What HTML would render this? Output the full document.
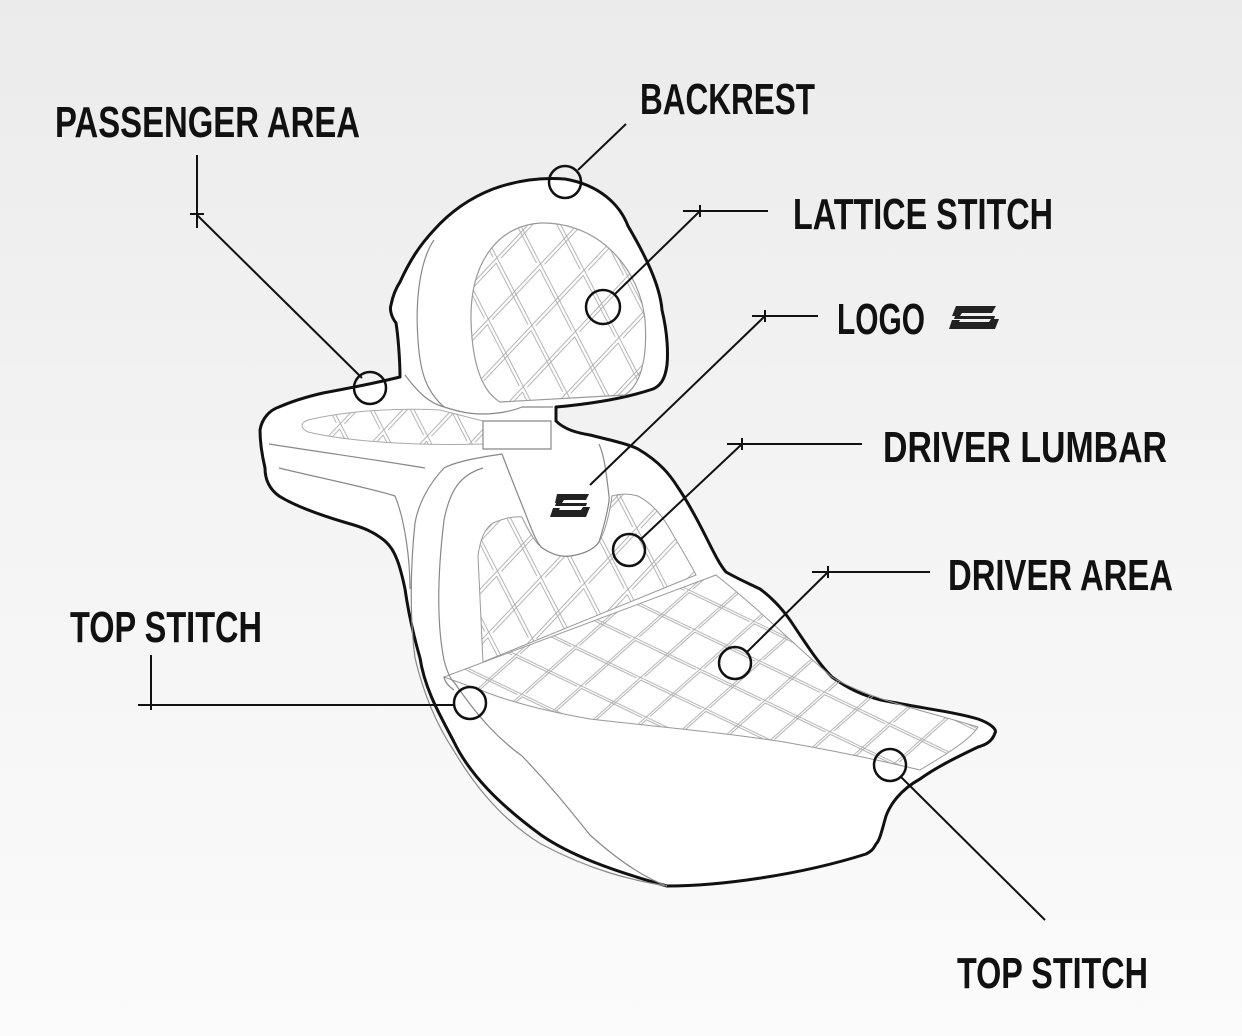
<!DOCTYPE html>
<html><head><meta charset="utf-8"><style>
html,body{margin:0;padding:0;}
body{width:1242px;height:1036px;overflow:hidden;background:linear-gradient(#ebebeb,#f4f4f4 50%,#fbfbfb);}
svg{display:block}
text{font-family:"Liberation Sans Narrow","Liberation Sans",sans-serif;font-weight:bold;fill:#111;}
</style></head><body>
<svg width="1242" height="1036" viewBox="0 0 1242 1036" xmlns="http://www.w3.org/2000/svg">
<defs>
<pattern id="lat" width="60" height="40" patternUnits="userSpaceOnUse" patternTransform="rotate(-8)">
<path d="M0 0 L60 40 M60 0 L0 40 M-4 0 L56 40 M64 0 L4 40" stroke="#aaa" stroke-width="0.9" fill="none"/>
</pattern>
<pattern id="latb" width="44" height="62" patternUnits="userSpaceOnUse" patternTransform="rotate(8)">
<path d="M0 0 L44 62 M44 0 L0 62 M-4 0 L40 62 M48 0 L4 62" stroke="#aaa" stroke-width="0.9" fill="none"/>
</pattern>
</defs>
<g font-size="44">
<text x="55" y="137" textLength="305" lengthAdjust="spacingAndGlyphs">PASSENGER AREA</text>
<text x="640" y="114" textLength="175" lengthAdjust="spacingAndGlyphs">BACKREST</text>
<text x="793" y="229" textLength="260" lengthAdjust="spacingAndGlyphs">LATTICE STITCH</text>
<text x="837" y="334" textLength="88" lengthAdjust="spacingAndGlyphs">LOGO</text>
<text x="883" y="462" textLength="284" lengthAdjust="spacingAndGlyphs">DRIVER LUMBAR</text>
<text x="948" y="590" textLength="225" lengthAdjust="spacingAndGlyphs">DRIVER AREA</text>
<text x="70" y="642" textLength="192" lengthAdjust="spacingAndGlyphs">TOP STITCH</text>
<text x="957" y="988" textLength="191" lengthAdjust="spacingAndGlyphs">TOP STITCH</text>
</g>
<g fill="#222"><path d="M956 306 h40 l-4 7 h-30 l-2 3 h-8 z"/><path d="M952 320 h8 l-1 2 h30 l2 -3 h8 l-4 10 h-46 z"/><path d="M955 316 h40 l-1 3 h-40 z"/></g>
<path d="M565 179 C600 185 620 205 628 226 C645 255 660 285 662 310 C668 335 668 355 667 365 C665 380 660 386 653 389 C620 400 580 405 556 407 L556 421 C565 430 578 433 590 435 C610 440 628 444 638 449 C660 462 670 475 677 486 C690 505 700 525 706 537 C715 555 720 565 726 572 C740 580 750 584 760 589 C775 600 785 612 794 626 C810 650 820 665 832 677 C850 690 865 696 881 700 C920 708 955 712 978 719 C992 724 997 730 995 733 C992 742 985 745 978 747 C955 758 935 768 920 779 C900 790 890 805 886 816 C882 830 880 840 876 844 C873 850 870 852 866 854 C800 875 720 886 667 886 C610 870 570 855 541 835 C500 805 470 775 454 742 C440 715 425 690 420 658 C412 630 408 610 405 589 C400 565 395 550 386 542 C375 532 362 527 347 523 C320 515 295 506 279 496 C268 488 265 478 265 468 C262 455 260 440 260 430 C262 418 270 410 279 407 C295 400 310 396 323 393 C350 388 380 382 400 377 C400 360 398 335 396 323 C390 315 390 308 391 305 C393 295 396 288 400 282 C410 260 420 245 434 230 C450 212 470 198 493 189 C515 181 540 177 565 179 Z" fill="#fff" stroke="#111" stroke-width="3" stroke-linejoin="round"/>
<path d="M471 320 C470 260 500 225 541 223 C600 222 640 270 645 320 C648 360 640 385 625 395 L500 402 C480 390 472 360 471 320 Z" fill="url(#latb)" stroke="#999" stroke-width="1.2"/>
<path d="M308 420 C350 410 400 408 440 410 L483 421 L483 444 C420 446 350 442 308 432 C300 428 300 423 308 420 Z" fill="url(#latb)" stroke="#aaa" stroke-width="1"/>
<path d="M483 662 L478 556 C480 540 485 528 493 523 C505 518 515 516 522 517 C528 530 535 542 541 547 C552 555 562 557 570 556 C585 554 594 549 599 542 C606 530 610 510 612 496 C622 493 630 494 638 496 C655 505 665 520 672 533 C682 550 690 563 696 575 Z" fill="url(#latb)" stroke="#999" stroke-width="1"/>
<path d="M444 677 L716 575 C760 610 800 650 832 677 C870 700 930 712 978 727 C970 740 945 755 920 770 C870 758 830 750 784 742 C720 732 650 726 590 719 C550 712 510 702 483 691 Z" fill="url(#lat)" stroke="#999" stroke-width="1"/>
<g fill="none" stroke="#888" stroke-width="1.2">
<path d="M405 375 C420 395 430 403 444 407 C460 412 470 414 483 414 C500 414 515 410 522 407 L553 407"/>
<path d="M434 240 C420 260 415 300 418 340 C420 370 425 390 444 407"/>
<path d="M483 421 L551 421 L551 449 L483 449 Z"/>
<path d="M269 444 C320 452 390 462 425 468"/>
<path d="M279 468 C320 478 370 488 395 496 C405 520 410 560 410 589"/>
<path d="M502 454 C475 458 455 462 444 468 C428 485 418 505 415 523 C410 570 410 620 415 658 C425 700 440 730 454 751 C480 795 510 825 541 844 C590 870 630 880 667 886"/>
<path d="M483 468 C460 475 450 490 444 520 C438 570 436 620 444 660 C448 675 451 680 454 682 C480 720 500 740 522 756 C550 785 570 810 590 835 C620 862 645 878 667 886"/>
<path d="M502 454 C510 475 516 490 522 505 C530 525 535 540 541 547 C552 555 562 557 570 556 C585 554 594 549 599 542 C606 520 610 500 609 496 C606 470 604 455 599 444"/>
<path d="M444 677 C445 682 448 686 454 690"/>
</g>
<g fill="#222"><path d="M557 494 h32 l-3 6 h-22 l-2 3 h-7 z"/><path d="M553 508 h7 l-1 2 h22 l2 -3 h7 l-4 10 h-36 z"/><path d="M556 503 h31 l-1 3 h-31 z"/></g>
<g fill="none" stroke="#111" stroke-width="2">
<path d="M197 155 V228 M190 214 L204 214 M197 215 L362 378"/>
<path d="M626 124 L578 170"/>
<path d="M683 211 H768 M700 205 V217 M700 211 L614 295"/>
<path d="M752 316 H818 M765 310 V322 M765 316 L590 485"/>
<path d="M727 444 H862 M742 438 V450 M742 444 L640 540"/>
<path d="M812 572 H930 M828 566 V578 M828 572 L747 652"/>
<path d="M151 655 V710 M138 705 H455"/>
<path d="M900 776 L1045 920"/>
</g>
<g fill="none" stroke="#111" stroke-width="2.5">
<circle cx="370" cy="388" r="16"/><circle cx="565" cy="182" r="16"/><circle cx="603" cy="307" r="17"/>
<circle cx="629" cy="550" r="16"/><circle cx="735" cy="663" r="16"/><circle cx="470" cy="703" r="16"/><circle cx="890" cy="765" r="16"/>
</g>
</svg>
</body></html>
